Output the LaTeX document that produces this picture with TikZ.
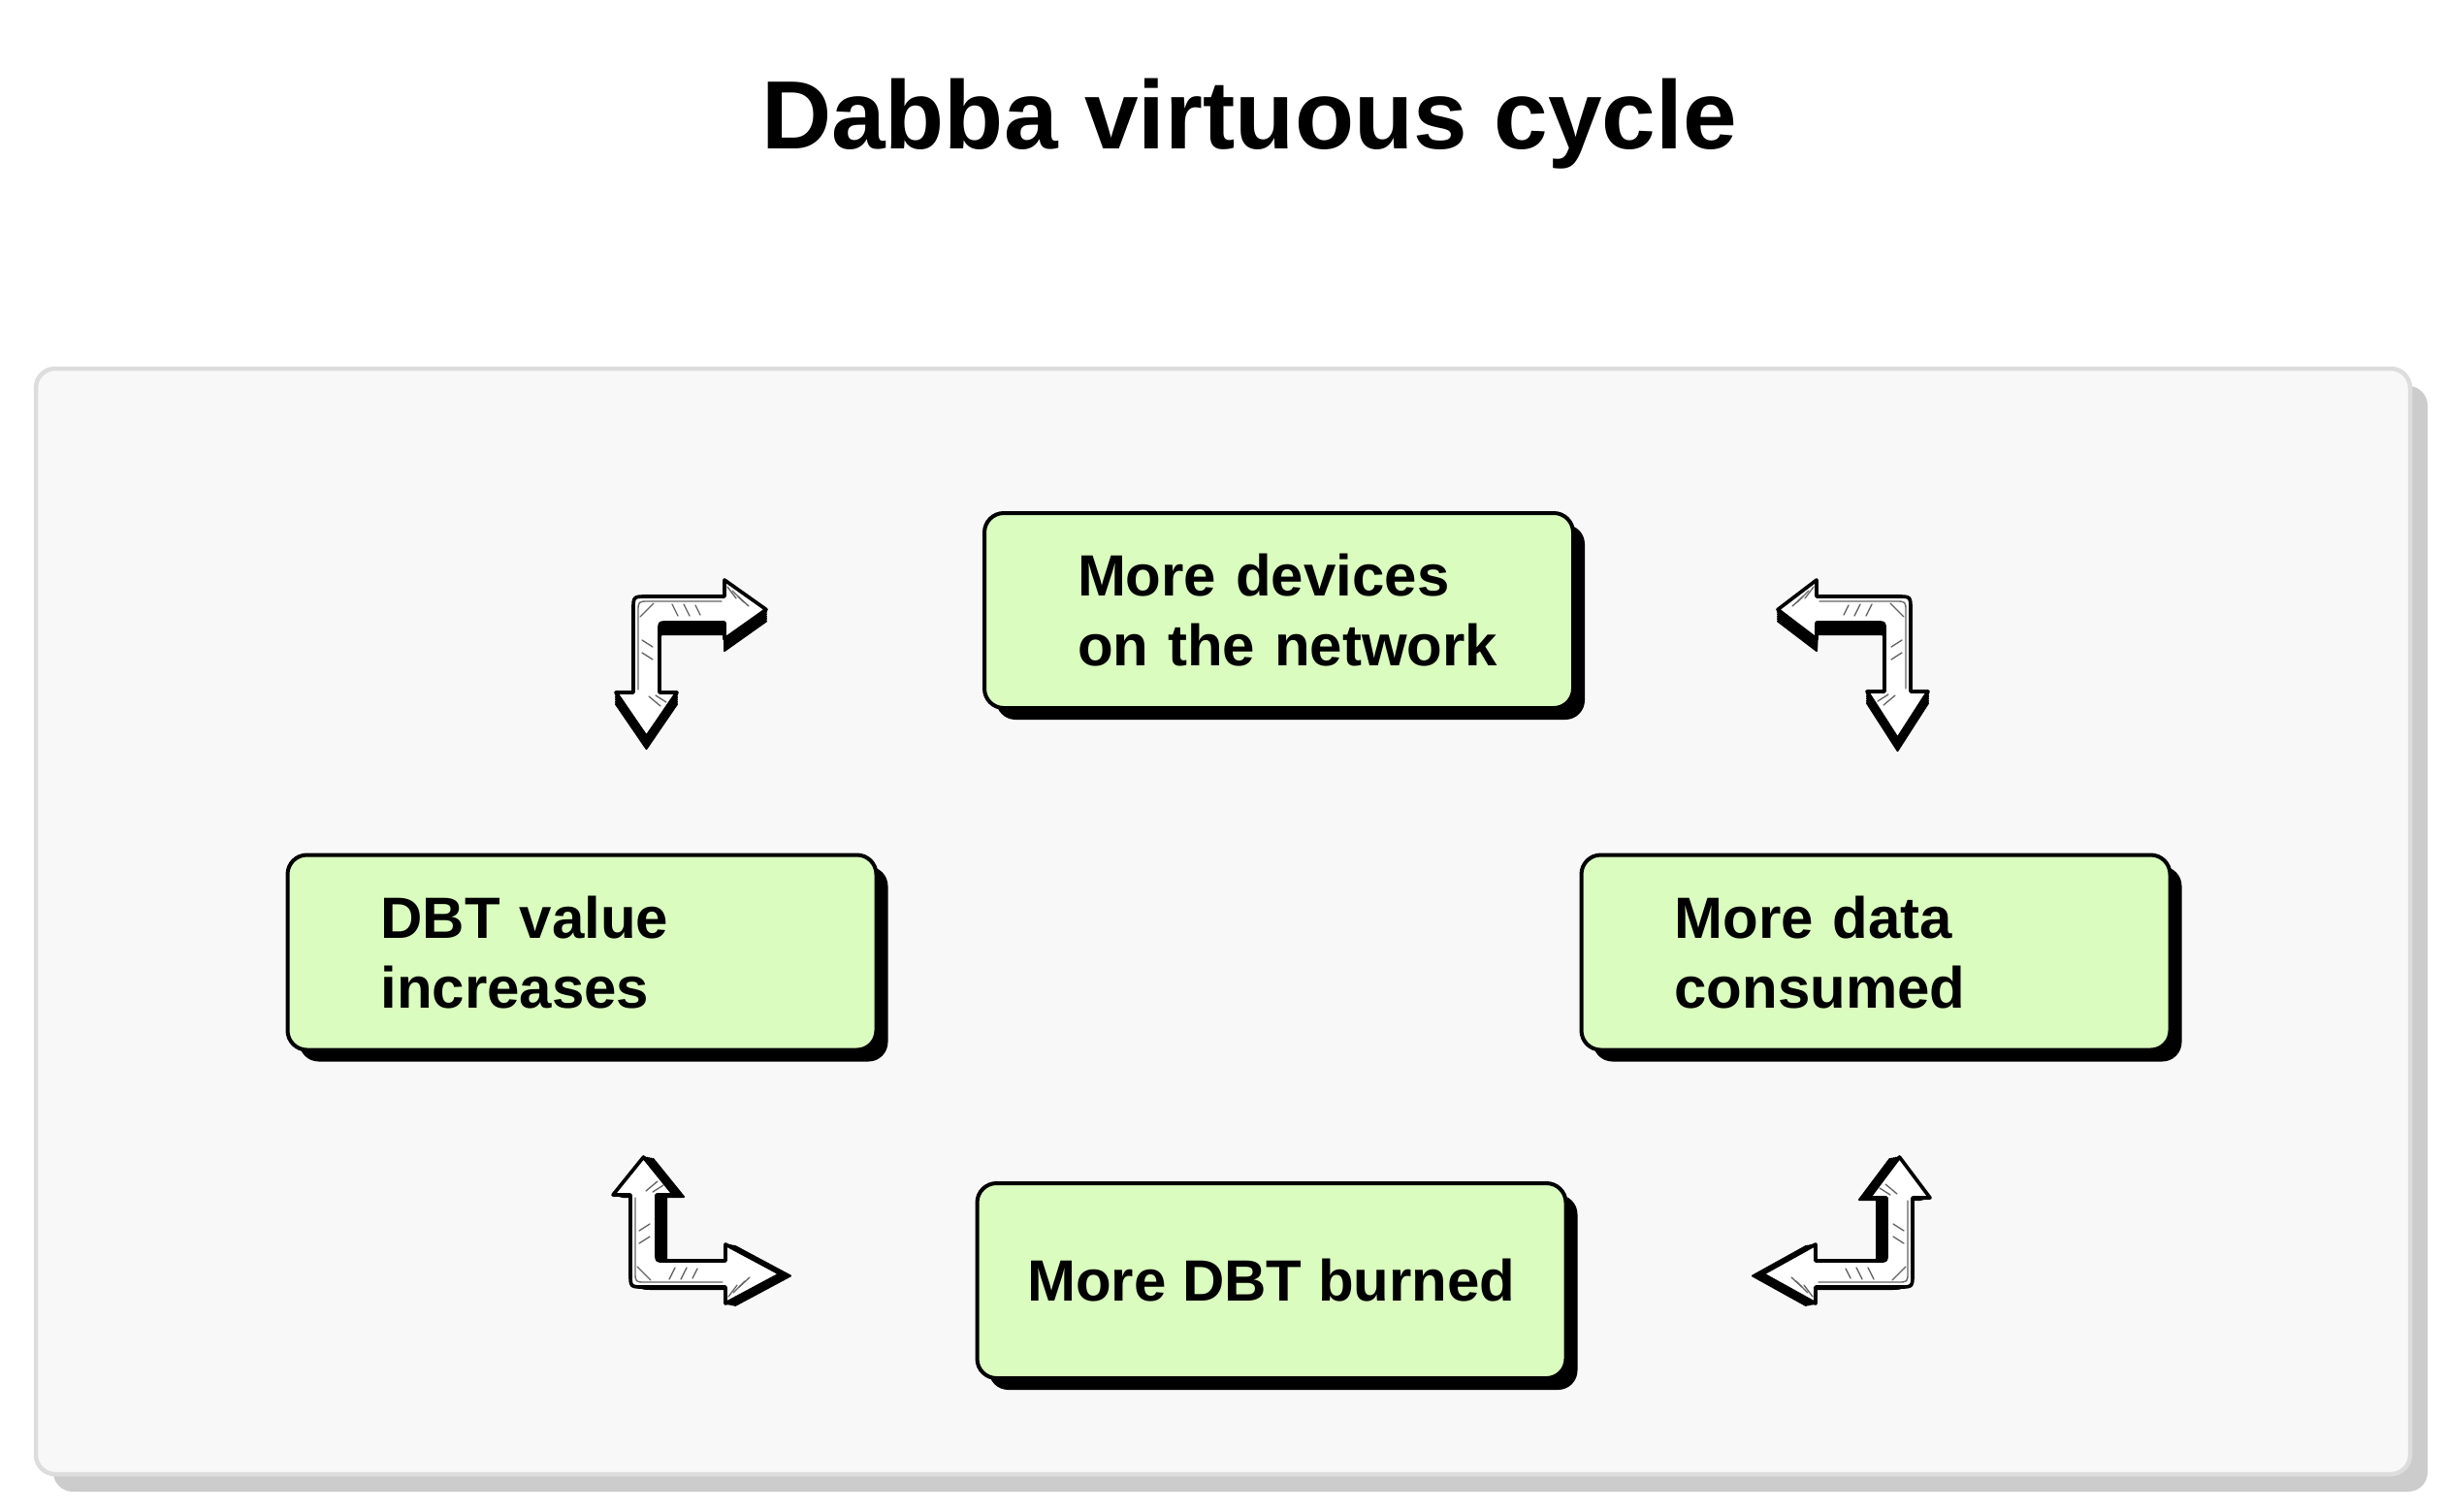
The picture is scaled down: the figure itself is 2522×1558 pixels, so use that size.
\documentclass[tikz,border=0pt]{standalone}
\usepackage{fontspec}
\setmainfont{Liberation Sans}
\usetikzlibrary{shadows}
\definecolor{boxgreen}{RGB}{218,252,190}
\definecolor{panelfill}{RGB}{248,248,248}
\definecolor{panelline}{RGB}{221,221,221}
\definecolor{panelshadow}{RGB}{204,204,204}
\definecolor{hatch}{RGB}{100,100,100}
\tikzset{
  cyclebox/.style={draw=black, line width=1.2pt, fill=boxgreen, rounded corners=6pt,
    minimum width=182.1pt, minimum height=60.3pt, inner ysep=0pt,
    font=\fontsize{18}{21.6}\selectfont\bfseries,
    drop shadow={shadow xshift=3.6pt, shadow yshift=-3.6pt, opacity=1, fill=black}},
  lbox/.style={cyclebox, text width=124.5pt, inner xsep=28.8pt, align=left},
  cbox/.style={cyclebox, align=center, inner xsep=0pt},
  arrface/.style={fill=white, draw=black, line width=1.1pt, line join=round},
  hatchline/.style={draw=hatch, line width=0.4pt, line cap=round},
  titletext/.style={font=\fontsize{30}{36}\selectfont\bfseries, anchor=base, inner sep=0pt},
}
% #1 cx, #2 cy, #3 sx, #4 sy, #5 head base (h), #6 tip (h), #7 head base (v), #8 tip (v)
\newcommand\bentarr[8]{%
  \foreach \f in {0.2,0.4,0.6,0.8,1}{%
    \filldraw[black, line width=0.6pt, line join=round, shift={(#1+\f*\ex,#2+\f*\ey)}, xscale=#3, yscale=#4]
      (0,14) .. controls (0,0) .. (14,0) -- (#5,0) -- (#5,-17) -- (#6,13.5) -- (#5,44)
      -- (#5,27) -- (34,27) .. controls (27,27) .. (27,34) -- (27,#7) -- (45,#7)
      -- (13.5,#8) -- (-18,#7) -- (0,#7) -- cycle;
  }%
  \begin{scope}[shift={(#1,#2)}, xscale=#3, yscale=#4]
    \draw[arrface]
      (0,14) .. controls (0,0) .. (14,0) -- (#5,0) -- (#5,-17) -- (#6,13.5) -- (#5,44)
      -- (#5,27) -- (34,27) .. controls (27,27) .. (27,34) -- (27,#7) -- (45,#7)
      -- (13.5,#8) -- (-18,#7) -- (0,#7) -- cycle;
    \draw[hatchline] (5,#7-3) -- (5,16) .. controls (5,5) .. (16,5) -- (#5-3,5);
    \draw[hatchline] (#5+3,-10) -- (#5+12,2);
    \draw[hatchline] (#5+8,-6) -- (#5+20,6);
    \draw[hatchline] (#5+14,0) -- (#5+25,10);
    \draw[hatchline] (40,8) -- (46,20);
    \draw[hatchline] (52,8) -- (58,20);
    \draw[hatchline] (64,9) -- (69,19);
    \draw[hatchline] (9,45) -- (20,52);
    \draw[hatchline] (9,58) -- (20,65);
    \draw[hatchline] (16,#7+4) -- (28,#7+14);
    \draw[hatchline] (23,#7+3) -- (34,#7+10);
    \draw[hatchline] (7,21) -- (21,7);
  \end{scope}
}
\begin{document}
\begin{tikzpicture}[x=0.3pt, y=-0.3pt]
  \useasboundingbox (0,0) rectangle (2522,1558);
  \fill[white] (0,0) rectangle (2522,1558);
  % panel
  \fill[panelshadow, rounded corners=6pt] (55,398) rectangle (2503,1538);
  \draw[panelline, fill=panelfill, line width=1.35pt, rounded corners=6pt] (37,380) rectangle (2485,1520);
  % title
  \node[titletext] (title) at (1288,153) {Dabba virtuous cycle};
  % boxes
  \node[lbox] (devices) at (1318.5,629.5) {\mbox{More devices}\\\mbox{on the network}};
  \node[lbox] (value) at (600,982) {DBT value\\increases};
  \node[lbox] (data) at (1934,982) {More data\\consumed};
  \node[cbox] (burned) at (1311,1320.5) {More DBT burned};
  % arrows
  \def\ex{0}\def\ey{12}
  \bentarr{653}{615}{1}{1}{94}{137}{99}{145}
  \bentarr{1970}{615}{-1}{1}{97}{137}{98}{147}
  \def\ex{10}\def\ey{2}
  \bentarr{650}{1327}{1}{-1}{98}{155}{95}{134}
  \def\ex{-10}\def\ey{2}
  \bentarr{1972}{1327}{-1}{-1}{100}{155}{92}{134}
\end{tikzpicture}
\end{document}
